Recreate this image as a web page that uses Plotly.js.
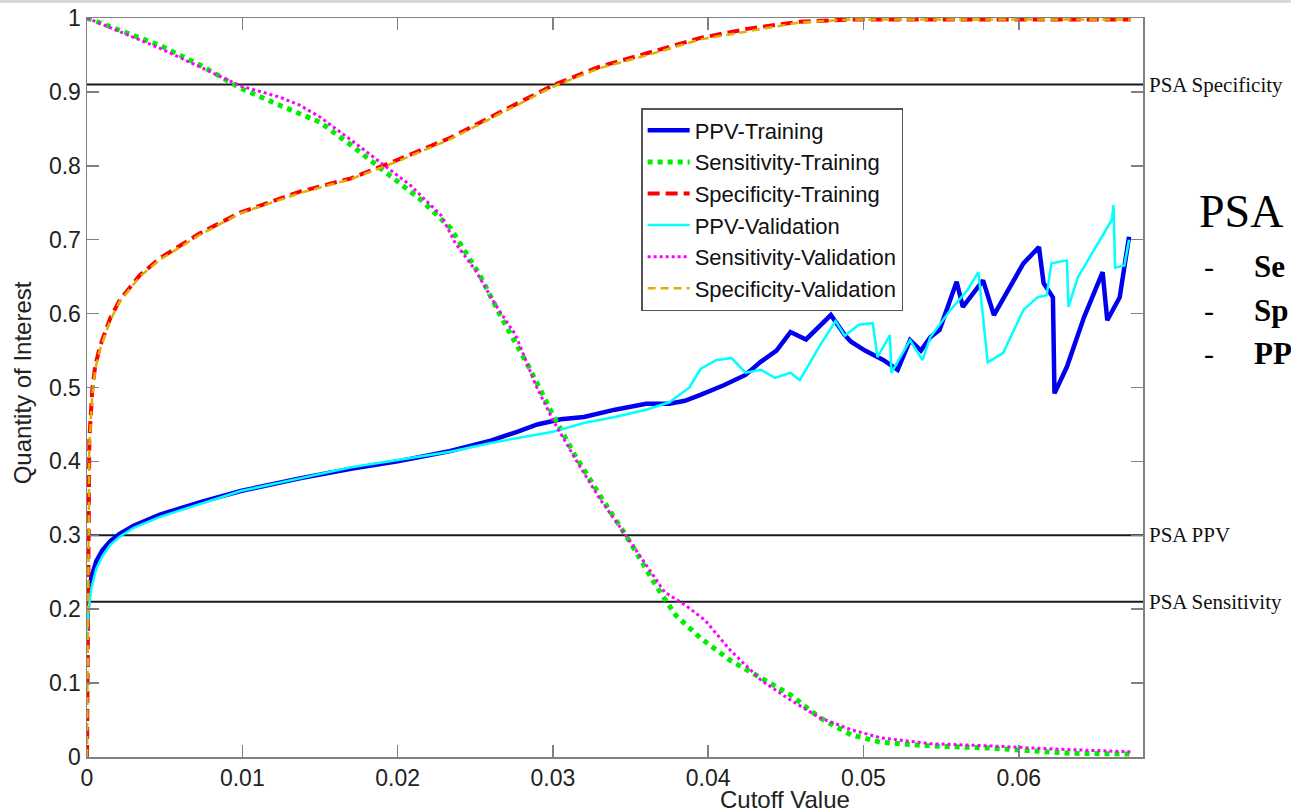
<!DOCTYPE html>
<html>
<head>
<meta charset="utf-8">
<script src="https://cdn.plot.ly/plotly-3.0.1.min.js"></script>
<style>
html,body{margin:0;padding:0;background:#fff;}
#chart{width:1291px;height:812px;}
</style>
</head>
<body>
<div id="chart"></div>
<script>
// ---- data ----
const ppvTrainX = [0, 0.0001, 0.0003, 0.0006, 0.001, 0.0015, 0.0021, 0.003, 0.0047, 0.0073, 0.0099, 0.0137, 0.017, 0.02, 0.0234, 0.026, 0.0277, 0.029, 0.0305, 0.032, 0.034, 0.036, 0.0375, 0.0385, 0.0395, 0.041, 0.0424, 0.0434, 0.0444, 0.0453, 0.0463, 0.0479, 0.0488, 0.0492, 0.0501, 0.0513, 0.0522, 0.053, 0.0537, 0.0543, 0.0549, 0.056, 0.0564, 0.0577, 0.0584, 0.0603, 0.0613, 0.0616, 0.0622, 0.0623, 0.0631, 0.0642, 0.0654, 0.0657, 0.0665, 0.0671];
const ppvTrainY = [0.18, 0.22, 0.245, 0.265, 0.28, 0.292, 0.302, 0.313, 0.328, 0.345, 0.36, 0.377, 0.39, 0.40, 0.414, 0.428, 0.44, 0.45, 0.457, 0.46, 0.47, 0.478, 0.478, 0.482, 0.49, 0.503, 0.517, 0.535, 0.55, 0.575, 0.565, 0.598, 0.571, 0.562, 0.55, 0.537, 0.524, 0.564, 0.55, 0.568, 0.578, 0.643, 0.609, 0.645, 0.598, 0.668, 0.69, 0.641, 0.622, 0.492, 0.528, 0.595, 0.656, 0.591, 0.622, 0.704];

const sensTrainX = [0, 0.0047, 0.0073, 0.0099, 0.0124, 0.015, 0.017, 0.0189, 0.0215, 0.0234, 0.0253, 0.0266, 0.0285, 0.03, 0.0314, 0.033, 0.035, 0.0366, 0.0379, 0.0395, 0.0414, 0.0434, 0.0453, 0.0472, 0.0492, 0.0511, 0.0543, 0.0582, 0.0608, 0.0633, 0.0672];
const sensTrainY = [1.0, 0.963, 0.936, 0.905, 0.882, 0.859, 0.828, 0.797, 0.754, 0.716, 0.652, 0.598, 0.526, 0.463, 0.409, 0.355, 0.29, 0.233, 0.192, 0.161, 0.131, 0.107, 0.084, 0.053, 0.030, 0.020, 0.015, 0.012, 0.009, 0.005, 0.004];

const specTrainX = [0, 0.00005, 0.0001, 0.00015, 0.00034, 0.00053, 0.00086, 0.0015, 0.0021, 0.0034, 0.0047, 0.0073, 0.0099, 0.0137, 0.017, 0.02, 0.0234, 0.0266, 0.03, 0.033, 0.0363, 0.0395, 0.0427, 0.0459, 0.0492, 0.055, 0.0672];
const specTrainY = [0, 0.2, 0.35, 0.43, 0.497, 0.53, 0.557, 0.594, 0.618, 0.652, 0.675, 0.709, 0.737, 0.765, 0.783, 0.808, 0.838, 0.873, 0.909, 0.934, 0.954, 0.973, 0.986, 0.995, 0.998, 0.998, 0.998];

const ppvValX = [0, 0.0001, 0.0003, 0.0006, 0.001, 0.0015, 0.0021, 0.003, 0.0047, 0.0073, 0.0099, 0.0137, 0.017, 0.02, 0.0234, 0.026, 0.028, 0.03, 0.032, 0.034, 0.036, 0.0375, 0.0388, 0.0395, 0.0405, 0.0415, 0.0424, 0.0434, 0.0443, 0.0453, 0.0459, 0.0466, 0.0472, 0.0482, 0.0488, 0.0497, 0.0506, 0.0509, 0.0517, 0.0518, 0.053, 0.0538, 0.0543, 0.0556, 0.0567, 0.0574, 0.058, 0.059, 0.0603, 0.0612, 0.0618, 0.0621, 0.0631, 0.0632, 0.0638, 0.066, 0.0661, 0.0662, 0.0668, 0.0671];
const ppvValY = [0.17, 0.2, 0.23, 0.255, 0.272, 0.287, 0.298, 0.31, 0.325, 0.343, 0.36, 0.377, 0.392, 0.402, 0.413, 0.425, 0.432, 0.44, 0.452, 0.46, 0.47, 0.48, 0.50, 0.525, 0.537, 0.54, 0.52, 0.524, 0.513, 0.52, 0.51, 0.535, 0.557, 0.59, 0.57, 0.585, 0.587, 0.541, 0.571, 0.52, 0.564, 0.537, 0.568, 0.605, 0.632, 0.656, 0.534, 0.547, 0.605, 0.622, 0.625, 0.668, 0.672, 0.609, 0.649, 0.727, 0.747, 0.662, 0.665, 0.70];

const sensValX = [0, 0.0047, 0.0099, 0.0124, 0.0137, 0.015, 0.017, 0.0189, 0.0208, 0.0228, 0.0237, 0.025, 0.0263, 0.0276, 0.0289, 0.03, 0.0314, 0.033, 0.0347, 0.036, 0.0372, 0.0385, 0.0398, 0.0414, 0.0434, 0.0453, 0.0472, 0.0492, 0.0511, 0.0543, 0.0582, 0.062, 0.0672];
const sensValY = [1.0, 0.959, 0.908, 0.893, 0.882, 0.866, 0.835, 0.805, 0.774, 0.733, 0.696, 0.659, 0.612, 0.571, 0.503, 0.456, 0.405, 0.35, 0.30, 0.26, 0.223, 0.206, 0.185, 0.145, 0.104, 0.077, 0.053, 0.037, 0.026, 0.018, 0.015, 0.011, 0.007];

const specValX = [0, 0.00005, 0.0001, 0.00015, 0.00034, 0.00053, 0.00086, 0.0015, 0.0021, 0.0034, 0.0047, 0.0073, 0.0099, 0.0137, 0.017, 0.02, 0.0234, 0.0266, 0.03, 0.033, 0.0363, 0.0395, 0.0427, 0.0459, 0.0492, 0.055, 0.0672];
const specValY = [0, 0.19, 0.34, 0.42, 0.49, 0.525, 0.553, 0.591, 0.616, 0.65, 0.673, 0.707, 0.736, 0.763, 0.782, 0.806, 0.836, 0.870, 0.907, 0.932, 0.951, 0.971, 0.983, 0.994, 0.998, 0.998, 0.998];

const seriesNames = ['PPV-Training', 'Sensitivity-Training', 'Specificity-Training', 'PPV-Validation', 'Sensitivity-Validation', 'Specificity-Validation'];

const xTickVals = [0, 0.01, 0.02, 0.03, 0.04, 0.05, 0.06];
const xTickText = ['0', '0.01', '0.02', '0.03', '0.04', '0.05', '0.06'];
const yTickVals = [0, 0.1, 0.2, 0.3, 0.4, 0.5, 0.6, 0.7, 0.8, 0.9, 1];
const yTickText = ['0', '0.1', '0.2', '0.3', '0.4', '0.5', '0.6', '0.7', '0.8', '0.9', '1'];

const refLabels = ['PSA Specificity', 'PSA PPV', 'PSA Sensitivity'];
const refValues = [0.91, 0.30, 0.21];

// side note (only its visible start fits inside the picture)
const sideTitle = 'PSA';
const sideBullets = ['Se', 'Sp', 'PP'];

const xTitle = 'Cutoff Value';
const yTitle = 'Quantity of Interest';

// ---- traces ----
const traces = [
  {x: ppvTrainX, y: ppvTrainY, name: seriesNames[0], mode: 'lines', line: {color: '#0000ee', width: 4.5}},
  {x: sensTrainX, y: sensTrainY, name: seriesNames[1], mode: 'lines', line: {color: '#00ee00', width: 5, dash: 'dot'}},
  {x: specTrainX, y: specTrainY, name: seriesNames[2], mode: 'lines', line: {color: '#ff0000', width: 4, dash: '12px,6px'}},
  {x: ppvValX, y: ppvValY, name: seriesNames[3], mode: 'lines', line: {color: '#00ffff', width: 2.5}},
  {x: sensValX, y: sensValY, name: seriesNames[4], mode: 'lines', line: {color: '#ff00ff', width: 3, dash: 'dot'}},
  {x: specValX, y: specValY, name: seriesNames[5], mode: 'lines', line: {color: '#e0b000', width: 2.5, dash: '8px,5px'}}
];

const sansFont = 'Liberation Sans, Arial, sans-serif';
const serifFont = 'Liberation Serif, Times New Roman, serif';

const shapes = refValues.map(v => ({
  type: 'line', xref: 'paper', yref: 'y', x0: 0, x1: 1, y0: v, y1: v,
  line: {color: '#1a1a1a', width: 2}, layer: 'below'
}));
shapes.push({type: 'rect', xref: 'paper', yref: 'paper', x0: -0.1, x1: 1.25, y0: 1 + 15/739, y1: 1 + 30/739,
  fillcolor: '#d9d9d9', line: {width: 0}, layer: 'above'});

const annotations = refLabels.map((t, i) => ({
  text: t, xref: 'paper', yref: 'y', x: 1.004, y: refValues[i], xanchor: 'left', yanchor: 'middle',
  showarrow: false, font: {family: serifFont, size: 21, color: '#111'}
}));
annotations.push({text: sideTitle, xref: 'paper', yref: 'paper', x: (1197 - 86.7) / 1056.3, y: (757 - 212) / 739,
  xanchor: 'left', yanchor: 'middle', showarrow: false, font: {family: serifFont, size: 46, color: '#000'}});
sideBullets.forEach((b, i) => {
  const py = 266 + i * 44;
  annotations.push({text: '-', xref: 'paper', yref: 'paper', x: (1202 - 86.7) / 1056.3, y: (757 - py) / 739,
    xanchor: 'left', yanchor: 'middle', showarrow: false, font: {family: serifFont, size: 30, color: '#000'}});
  annotations.push({text: '<b>' + b + '</b>', xref: 'paper', yref: 'paper', x: (1252 - 86.7) / 1056.3, y: (757 - py) / 739,
    xanchor: 'left', yanchor: 'middle', showarrow: false, font: {family: serifFont, size: 31, color: '#000'}});
});
annotations.push({text: xTitle, xref: 'paper', yref: 'paper', x: (785 - 86.7) / 1056.3, y: (757 - 800) / 739,
  xanchor: 'center', yanchor: 'middle', showarrow: false, font: {family: sansFont, size: 24, color: '#222'}});
annotations.push({text: yTitle, xref: 'paper', yref: 'paper', x: (22 - 86.7) / 1056.3, y: (757 - 383) / 739,
  xanchor: 'center', yanchor: 'middle', textangle: -90, showarrow: false, font: {family: sansFont, size: 24, color: '#222'}});

const axisCommon = {
  showgrid: false, zeroline: false, showline: true, linecolor: '#808080', linewidth: 1.5,
  mirror: 'ticks', ticks: 'inside', ticklen: 12, tickcolor: '#808080', tickwidth: 1.5,
  tickfont: {family: sansFont, size: 23, color: '#222'}
};

const layout = {
  width: 1291, height: 812,
  margin: {l: 87, r: 148, t: 18, b: 55, pad: 0},
  paper_bgcolor: '#ffffff', plot_bgcolor: '#ffffff',
  showlegend: true,
  legend: {
    x: (641 - 86.7) / 1056.3, y: (757 - 108) / 739, xanchor: 'left', yanchor: 'top',
    bgcolor: '#ffffff', bordercolor: '#555', borderwidth: 1.5,
    font: {family: sansFont, size: 22, color: '#111'}, itemwidth: 42, tracegroupgap: 0
  },
  xaxis: Object.assign({}, axisCommon, {range: [0, 0.068], tickmode: 'array', tickvals: xTickVals, ticktext: xTickText}),
  yaxis: Object.assign({}, axisCommon, {range: [0, 1], tickmode: 'array', tickvals: yTickVals, ticktext: yTickText}),
  shapes: shapes,
  annotations: annotations
};

Plotly.newPlot('chart', traces, layout, {displayModeBar: false, staticPlot: true});
</script>
</body>
</html>
